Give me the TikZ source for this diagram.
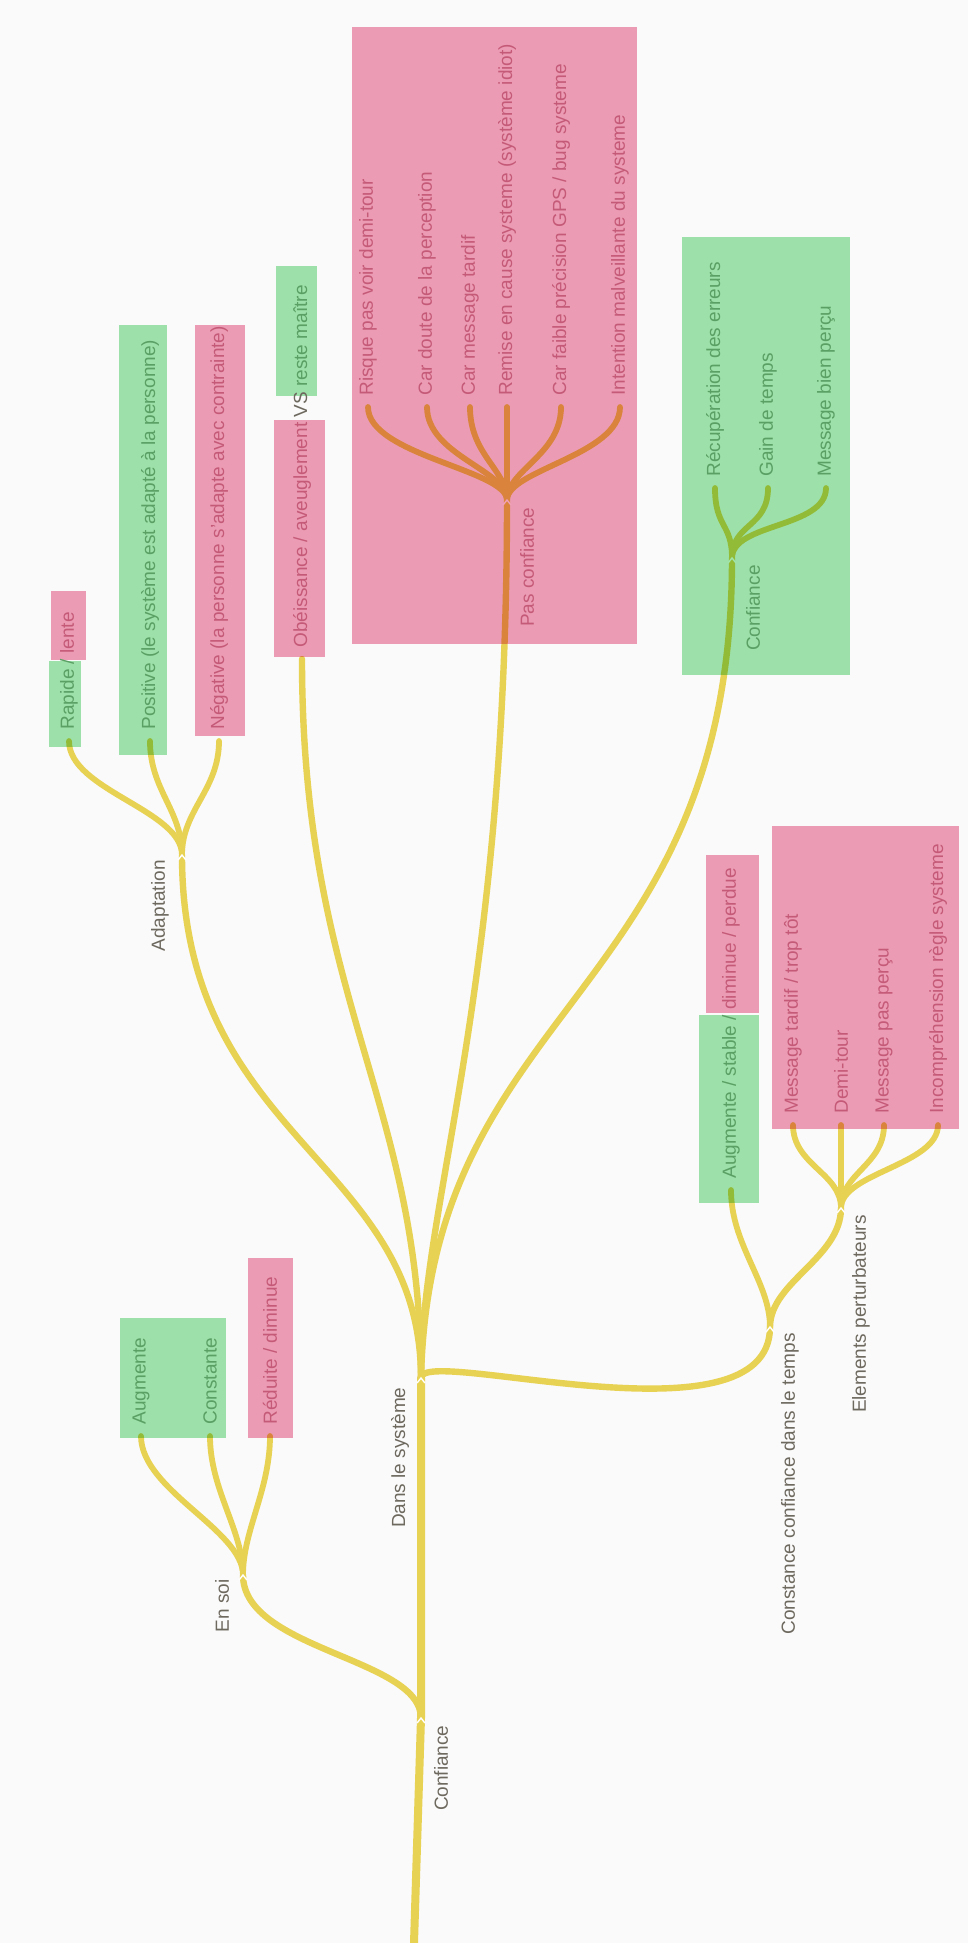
\documentclass[tikz,border=0pt]{standalone}
\usepackage{fontspec}
\setmainfont{Liberation Sans}
\usepackage{tikz}
\usetikzlibrary{calc}
\definecolor{MapBg}{HTML}{FAFAFA}
\definecolor{MapYellow}{HTML}{E8D254}
\definecolor{MapPink}{HTML}{F0A0B8}
\definecolor{MapGreen}{HTML}{A1E5AD}
\definecolor{TxtGrey}{HTML}{6E695F}
\definecolor{TxtPink}{HTML}{C55A78}
\definecolor{TxtGreen}{HTML}{5A9F64}
\pgfdeclarelayer{branches}
\pgfdeclarelayer{highlights}
\pgfsetlayers{branches,highlights,main}

\begin{document}
\begin{tikzpicture}[x=0.5pt, y=-0.5pt, every node/.style={font=\fontsize{9.5}{11}\selectfont, rotate=90, inner sep=0pt}, leaf/.style={anchor=west, inner xsep=5.5pt}, lbl/.style={anchor=east, text=TxtGrey}, onpink/.style={text=TxtPink}, ongreen/.style={text=TxtGreen}, branch/.style={draw=MapYellow, line width=3.2pt, line cap=round}, twig/.style={branch, line width=2.9pt}, trunk/.style={branch, line width=4pt}, pinkbox/.style={fill=MapPink, blend mode=multiply}, greenbox/.style={fill=MapGreen, blend mode=multiply}, notch/.style={draw=white, line width=0.7pt}]
\useasboundingbox (0,0) rectangle (968,1943);
% junctions
\coordinate (root) at (414,1943);
\coordinate (jconf) at (421,1718);
\coordinate (jsys) at (421,1378);
\coordinate (jsoi) at (243,1575);
\coordinate (jcst) at (770,1327);
\coordinate (jper) at (841,1208);
\coordinate (jada) at (182,855);
\coordinate (jpas) at (507,500);
\coordinate (jcon) at (732,558);
% junction labels
\node[lbl] (tconf) at ($(jconf)+(20,7)$) {Confiance};
\node[lbl] (tsys) at ($(jsys)+(-21,9)$) {Dans le système};
\node[lbl] (tsoi) at ($(jsoi)+(-21,4)$) {En soi};
\node[lbl] (tcst) at ($(jcst)+(20,6)$) {Constance confiance dans le temps};
\node[lbl] (tper) at ($(jper)+(20,7)$) {Elements perturbateurs};
\node[lbl] (tada) at ($(jada)+(-22,5)$) {Adaptation};
\node[lbl,onpink] (tpas) at ($(jpas)+(20,7)$) {Pas confiance};
\node[lbl,ongreen] (tcon) at ($(jcon)+(21,7)$) {Confiance};
% leaves
\node[leaf,onpink] (pas1) at (368,407) {Risque pas voir demi-tour};
\node[leaf,onpink] (pas2) at (427,407) {Car doute de la perception};
\node[leaf,onpink] (pas3) at (470,407) {Car message tardif};
\node[leaf,onpink] (pas4) at (507,407) {Remise en cause systeme (système idiot)};
\node[leaf,onpink] (pas5) at (561,407) {Car faible précision GPS / bug systeme};
\node[leaf,onpink] (pas6) at (620,407) {Intention malveillante du systeme};
\node[leaf,ongreen] (con1) at (715,488) {Récupération des erreurs};
\node[leaf,ongreen] (con2) at (768,488) {Gain de temps};
\node[leaf,ongreen] (con3) at (826,488) {Message bien perçu};
\node[leaf] (ada1) at (69,741) {\textcolor{TxtGreen}{Rapide /} \textcolor{TxtPink}{lente}};
\node[leaf,ongreen] (ada2) at (150,741) {Positive (le système est adapté à la personne)};
\node[leaf,onpink] (ada3) at (219,741) {Négative (la personne s'adapte avec contrainte)};
\node[leaf] (obe) at (302,659) {\textcolor{TxtPink}{Obéissance / aveuglement} \textcolor{TxtGrey}{VS} \textcolor{TxtGreen}{reste maître}};
\node[leaf] (sta) at (731,1190) {\textcolor{TxtGreen}{Augmente / stable /} \textcolor{TxtPink}{diminue / perdue}};
\node[leaf,onpink] (per1) at (793,1125) {Message tardif / trop tôt};
\node[leaf,onpink] (per2) at (841,1125) {Demi-tour};
\node[leaf,onpink] (per3) at (884,1125) {Message pas perçu};
\node[leaf,onpink] (per4) at (938,1125) {Incompréhension règle systeme};
\node[leaf,ongreen] (soi1) at (141,1436) {Augmente};
\node[leaf,ongreen] (soi2) at (210,1436) {Constante};
\node[leaf,onpink] (soi3) at (270,1436) {Réduite / diminue};

\begin{pgfonlayer}{branches}
\fill[MapBg] (0,0) rectangle (968,1943);
\draw[trunk] (root) -- (jconf) -- (jsys);
\draw[branch] (jconf) .. controls +(0,-60) and +(0,75) .. (jsoi);
\draw[branch] (jsys) .. controls +(0,-33) and +(0,123) .. (jcst);
\draw[branch] (jsys) .. controls +(0,-218) and +(0,285) .. (jada);
\draw[branch] (jsys) .. controls +(0,-278) and +(0,341) .. (obe.west);
\draw[branch] (jsys) .. controls +(0,-178) and +(0,500) .. (jpas);
\draw[branch] (jsys) .. controls +(9,-378) and +(0,442) .. (jcon);
\draw[branch] (jcst) .. controls +(0,-45) and +(0,50) .. (jper);
\draw[twig] (jcst) .. controls +(0,-45) and +(0,55) .. (sta.west);
\foreach \n in {pas1,pas2,pas3,pas4,pas5,pas6}
  \draw[twig] (jpas) .. controls +(0,-30) and +(0,48) .. (\n.west);
\foreach \n in {con1,con2,con3}
  \draw[twig] (jcon) .. controls +(0,-35) and +(0,40) .. (\n.west);
\foreach \n in {ada1,ada2,ada3}
  \draw[twig] (jada) .. controls +(0,-45) and +(0,49) .. (\n.west);
\foreach \n in {per1,per2,per3,per4}
  \draw[twig] (jper) .. controls +(0,-35) and +(0,40) .. (\n.west);
\foreach \n in {soi1,soi2,soi3}
  \draw[twig] (jsoi) .. controls +(0,-45) and +(0,54) .. (\n.west);
\foreach \j in {jconf,jsys,jsoi,jcst,jper,jada,jpas,jcon}
  \draw[notch] ($(\j)+(-4,5)$) -- (\j) -- ($(\j)+(4,5)$);
\end{pgfonlayer}

% highlight boxes
\begin{pgfonlayer}{highlights}
\fill[pinkbox] (352,27) rectangle (637,644);
\fill[pinkbox] (51,591) rectangle (86,660);
\fill[pinkbox] (195,325) rectangle (245,736);
\fill[pinkbox] (274,420) rectangle (325,657);
\fill[pinkbox] (248,1258) rectangle (293,1438);
\fill[pinkbox] (772,826) rectangle (959,1129);
\fill[pinkbox] (706,855) rectangle (759,1013);
\fill[greenbox] (49,661) rectangle (81,747);
\fill[greenbox] (119,325) rectangle (167,755);
\fill[greenbox] (276,266) rectangle (317,396);
\fill[greenbox] (682,237) rectangle (850,675);
\fill[greenbox] (120,1318) rectangle (226,1438);
\fill[greenbox] (699,1015) rectangle (759,1203);
\end{pgfonlayer}
\end{tikzpicture}
\end{document}
